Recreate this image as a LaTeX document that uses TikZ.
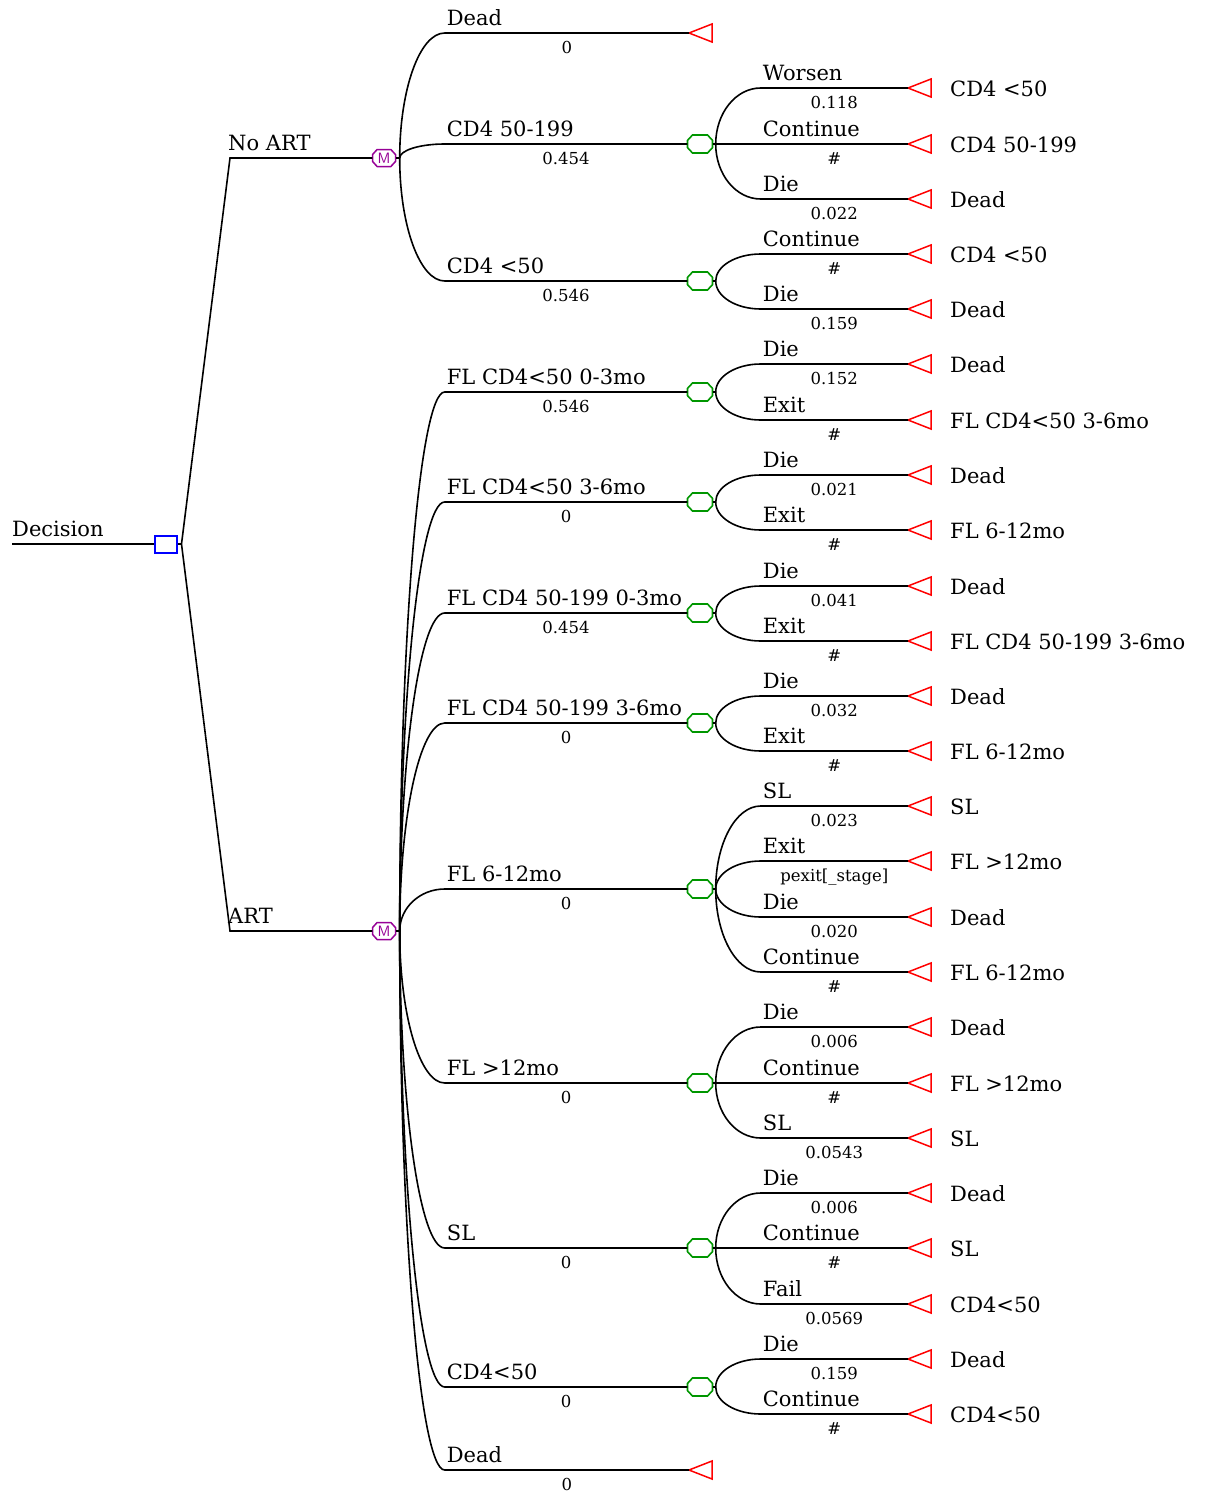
\documentclass[tikz,border=0pt]{standalone}
\usepackage{fontspec}
\setmainfont{DejaVu Serif}
\usetikzlibrary{calc}
\definecolor{tgreen}{RGB}{0,150,0}
\definecolor{tpurple}{RGB}{150,0,150}
\definecolor{tred}{RGB}{255,0,0}
\definecolor{tblue}{RGB}{0,0,255}
\tikzset{
 br/.style={line width=1.6pt, black},
 blab/.style={anchor=base west, inner sep=0, font=\fontsize{21}{24}\selectfont},
 prob/.style={anchor=base, inner sep=0, yshift=-20pt, font=\fontsize{16.5}{19}\selectfont},
 tlab/.style={anchor=base west, inner sep=0, font=\fontsize{21}{24}\selectfont},
 chance/.style={rectangle, inner sep=0, minimum width=25, minimum height=18},
 octg/.style={draw=tgreen, line width=1.6pt},
 markov/.style={rectangle, inner sep=0, minimum width=23, minimum height=17, text=tpurple, font=\sffamily\fontsize{15}{15}\selectfont},
 octp/.style={draw=tpurple, line width=1.5pt},
 decision/.style={draw=tblue, line width=2pt, rectangle, minimum width=22, minimum height=17, inner sep=0},
 termtri/.style={draw=tred, line width=1.5pt}
}
% octagon round a node: #1 node, #2 half width, #3 half height, #4 style
\newcommand\oct[4]{%
  \draw[#4] ($(#1)+(-#2,-#3*0.4)$) -- ($(#1)+(-#2,#3*0.4)$) -- ($(#1)+(-#2*0.6,#3)$) -- ($(#1)+(#2*0.6,#3)$)
    -- ($(#1)+(#2,#3*0.4)$) -- ($(#1)+(#2,-#3*0.4)$) -- ($(#1)+(#2*0.6,-#3)$) -- ($(#1)+(-#2*0.6,-#3)$) -- cycle;
}
% branch: #1 start coord, #2 target point, #3 id, #4 label, #5 prob
\newcommand\brn[5]{%
  \coordinate (#3c) at (#1 |- #2);
  \coordinate (#3e) at ($(#3c)+(45,0)$);
  \draw[br] (#1) .. controls ($(#1)!0.5523!(#3c)$) and ($(#3e)!0.5523!(#3c)$) .. (#3e) -- node[prob]{#5} (#2);
  \node[blab] (#3l) at ($(#3e)+(2,-8)$) {#4};
}
% leaf of a chance node: #1 start, #2 id, #3 y, #4 label, #5 prob, #6 terminal text
\newcommand\leaf[6]{%
  \coordinate (#2) at (908,#3);
  \draw[termtri] (#2) -- ++(23,-9) -- ++(0,18) -- cycle;
  \node[tlab] (#2t) at ($(#2)+(42,8)$) {#6};
  \brn{#1}{#2}{#2b}{#4}{#5}
}
% terminal directly on a Markov node
\newcommand\leafm[5]{%
  \coordinate (#2) at (689,#3);
  \draw[termtri] (#2) -- ++(23,-9) -- ++(0,18) -- cycle;
  \brn{#1}{#2}{#2b}{#4}{#5}
}
% chance node: #1 start, #2 id, #3 y, #4 label, #5 prob
\newcommand\chn[5]{%
  \node[chance] (#2) at (700,#3) {};
  \oct{#2}{12.5}{9}{octg}
  \coordinate (#2s) at ($(#2.east)+(3,0)$);
  \draw[br] (#2.east) -- (#2s);
  \brn{#1}{#2.west}{#2b}{#4}{#5}
}
\begin{document}
\begin{tikzpicture}[x=1pt,y=-1pt]
\useasboundingbox (0,0) rectangle (1209,1491);
% decision
\node[decision] (dec) at (165.5,544) {};
\coordinate (dz) at (12,544);
\draw[br] (dz) -- (dec.west);
\node[blab] (decl) at (12,536) {Decision};
\coordinate (ds) at ($(dec.east)+(4,0)$);
\draw[br] (dec.east) -- (ds);
\node[markov] (mA) at (384,158) {M};
\node[markov] (mB) at (384,931) {M};
\oct{mA}{11.5}{8.5}{octp}
\oct{mB}{11.5}{8.5}{octp}
\coordinate (ka) at (230,158);
\coordinate (kb) at (230,931);
\draw[br] (ds) -- (ka) -- (mA.west);
\draw[br] (ds) -- (kb) -- (mB.west);
\node[blab] (kal) at (228,150) {No ART};
\node[blab] (kbl) at (228,923) {ART};
\coordinate (mAs) at ($(mA.east)+(4,0)$);
\coordinate (mBs) at ($(mB.east)+(4,0)$);
\draw[br] (mA.east) -- (mAs);
\draw[br] (mB.east) -- (mBs);
% No ART
\leafm{mAs}{ta}{33}{Dead}{0}
\chn{mAs}{ca}{144}{CD4 50-199}{0.454}
\chn{mAs}{cb}{281}{CD4 <50}{0.546}
\leaf{cas}{la}{88}{Worsen}{0.118}{CD4 <50}
\leaf{cas}{lb}{144}{Continue}{\#}{CD4 50-199}
\leaf{cas}{lc}{199}{Die}{0.022}{Dead}
\leaf{cbs}{ld}{254}{Continue}{\#}{CD4 <50}
\leaf{cbs}{le}{309}{Die}{0.159}{Dead}
% ART
\chn{mBs}{cc}{392}{FL CD4<50 0-3mo}{0.546}
\chn{mBs}{cd}{502}{FL CD4<50 3-6mo}{0}
\chn{mBs}{ce}{613}{FL CD4 50-199 0-3mo}{0.454}
\chn{mBs}{cf}{723}{FL CD4 50-199 3-6mo}{0}
\chn{mBs}{cg}{889}{FL 6-12mo}{0}
\chn{mBs}{ch}{1083}{FL >12mo}{0}
\chn{mBs}{ci}{1248}{SL}{0}
\chn{mBs}{cj}{1387}{CD4<50}{0}
\leafm{mBs}{tb}{1470}{Dead}{0}
\leaf{ccs}{lf}{364}{Die}{0.152}{Dead}
\leaf{ccs}{lg}{420}{Exit}{\#}{FL CD4<50 3-6mo}
\leaf{cds}{lh}{475}{Die}{0.021}{Dead}
\leaf{cds}{li}{530}{Exit}{\#}{FL 6-12mo}
\leaf{ces}{lj}{586}{Die}{0.041}{Dead}
\leaf{ces}{lk}{641}{Exit}{\#}{FL CD4 50-199 3-6mo}
\leaf{cfs}{ll}{696}{Die}{0.032}{Dead}
\leaf{cfs}{lm}{751}{Exit}{\#}{FL 6-12mo}
\leaf{cgs}{ln}{806}{SL}{0.023}{SL}
\leaf{cgs}{lo}{861}{Exit}{pexit[\_stage]}{FL >12mo}
\leaf{cgs}{lp}{917}{Die}{0.020}{Dead}
\leaf{cgs}{lq}{972}{Continue}{\#}{FL 6-12mo}
\leaf{chs}{lr}{1027}{Die}{0.006}{Dead}
\leaf{chs}{ls}{1083}{Continue}{\#}{FL >12mo}
\leaf{chs}{lt}{1138}{SL}{0.0543}{SL}
\leaf{cis}{lu}{1193}{Die}{0.006}{Dead}
\leaf{cis}{lv}{1248}{Continue}{\#}{SL}
\leaf{cis}{lw}{1304}{Fail}{0.0569}{CD4<50}
\leaf{cjs}{lx}{1359}{Die}{0.159}{Dead}
\leaf{cjs}{ly}{1414}{Continue}{\#}{CD4<50}
\end{tikzpicture}
\end{document}
